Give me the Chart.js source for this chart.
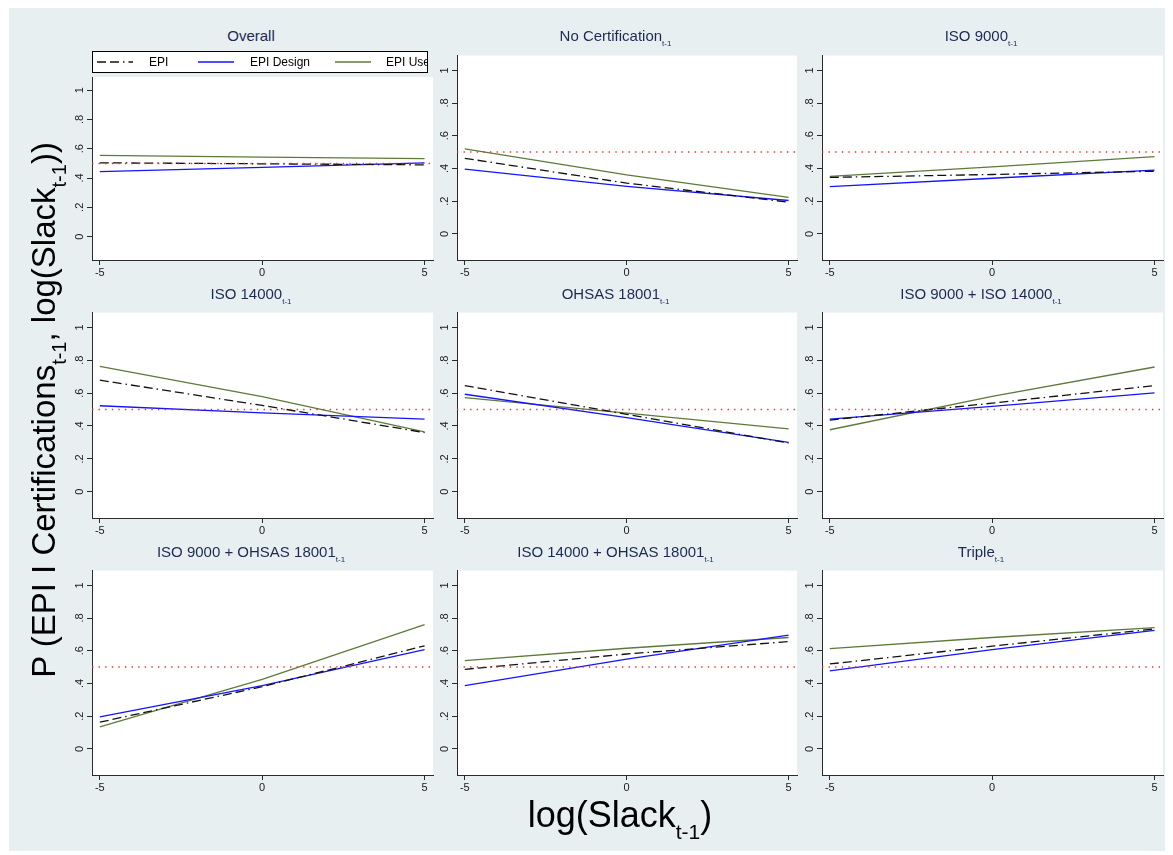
<!DOCTYPE html>
<html>
<head>
<meta charset="utf-8">
<script src="https://cdn.jsdelivr.net/npm/chart.js@4.4.1/dist/chart.umd.min.js"></script>
<style>
  body { margin: 0; background: #fff; font-family: 'Liberation Sans', Arial, sans-serif; }
  #bg { position: absolute; left: 9px; top: 8px; width: 1156px; height: 843px; background: #e8eff1; }
  canvas { position: absolute; }
  .ptitle { position: absolute; text-align: center; font-size: 15px; line-height: 18px; color: #1c2a52; white-space: nowrap; }
  .ptitle sub { font-size: 8px; vertical-align: -5px; line-height: 0; }
  #xtitle { position: absolute; left: 420px; width: 400px; top: 797px; text-align: center; font-size: 36px; line-height: 36px; color: #000; }
  #xtitle sub { font-size: 21px; vertical-align: -12px; line-height: 0; }
  #ytitle { position: absolute; left: -306px; width: 700px; top: 393px; height: 34px; text-align: center; font-size: 33px; line-height: 34px; color: #000; transform: rotate(-90deg); white-space: nowrap; }
  #ytitle sub { font-size: 20px; vertical-align: -11px; line-height: 0; }
</style>
</head>
<body>
<div id="bg"></div>
<div id="panels"></div>
<div id="xtitle">log(Slack<sub>t-1</sub>)</div>
<div id="ytitle">P (EPI I Certifications<sub>t-1</sub>, log(Slack<sub>t-1</sub>))</div>
<script>
// data
const slack = [-5, 0, 5];
const panelNames = ['Overall', 'No Certification', 'ISO 9000', 'ISO 14000', 'OHSAS 18001',
  'ISO 9000 + ISO 14000', 'ISO 9000 + OHSAS 18001', 'ISO 14000 + OHSAS 18001', 'Triple'];
const panelSubs = ['', 't-1', 't-1', 't-1', 't-1', 't-1', 't-1', 't-1', 't-1'];
const seriesNames = ['EPI', 'EPI Design', 'EPI Use'];

const epi = [
  [0.504, 0.497, 0.490], [0.462, 0.310, 0.194], [0.345, 0.363, 0.383],
  [0.679, 0.525, 0.360], [0.646, 0.471, 0.296], [0.436, 0.539, 0.646],
  [0.163, 0.380, 0.630], [0.486, 0.580, 0.656], [0.519, 0.628, 0.733]
];
const epiDesign = [
  [0.443, 0.473, 0.504], [0.396, 0.290, 0.204], [0.289, 0.340, 0.390],
  [0.523, 0.480, 0.442], [0.593, 0.451, 0.300], [0.442, 0.519, 0.601],
  [0.196, 0.387, 0.607], [0.387, 0.549, 0.695], [0.477, 0.607, 0.724]
];
const epiUse = [
  [0.555, 0.543, 0.532], [0.520, 0.360, 0.223], [0.351, 0.410, 0.472],
  [0.763, 0.578, 0.364], [0.572, 0.478, 0.383], [0.377, 0.580, 0.759],
  [0.134, 0.425, 0.759], [0.539, 0.615, 0.681], [0.613, 0.681, 0.741]
];
const refLevel = 0.5;

const xTicks = [-5, 0, 5];
const xTickLabels = ['-5', '0', '5'];
const yTicks = [0, 0.2, 0.4, 0.6, 0.8, 1];
const yTickLabels = ['0', '.2', '.4', '.6', '.8', '1'];

// layout
const colL = [92, 457, 822], colR = [433, 797, 1163];
const rowT = [47, 304, 562], rowB = [260, 518, 775];
const rowTitleY = [36, 294, 552];
const X_MIN = -5.24, X_MAX = 5.26, Y_MIN = -0.16, Y_MAX = 1.09;

const styles = [
  { color: '#111111', width: 1.3, dash: [9, 4, 9, 4, 1.5, 4] },
  { color: '#1414ff', width: 1.3, dash: [] },
  { color: '#5d7a38', width: 1.3, dash: [] }
];
const axisColor = '#2b2b2b';

Chart.defaults.font.family = "'Liberation Sans', Arial, sans-serif";
Chart.defaults.font.size = 11;
Chart.defaults.color = '#1a1a1a';

const plotBg = {
  id: 'plotBg',
  beforeDraw(chart) {
    const { ctx, chartArea: a } = chart;
    ctx.save();
    ctx.fillStyle = '#fff';
    ctx.fillRect(a.left, a.top, a.right - a.left, a.bottom - a.top);
    ctx.restore();
  }
};

// boxed legend above the Overall panel
const legendBox = {
  id: 'legendBox',
  afterDraw(chart) {
    const { ctx, chartArea: a } = chart;
    const x0 = a.left, y0 = 4, w = a.right - a.left - 5, h = 22;
    const sampleX = [5, 106, 243], textX = [57, 158, 294];
    ctx.save();
    ctx.fillStyle = '#fff';
    ctx.fillRect(x0, y0, w, h);
    ctx.strokeStyle = '#000';
    ctx.lineWidth = 1;
    ctx.strokeRect(x0 + 0.5, y0 + 0.5, w - 1, h - 1);
    ctx.beginPath();
    ctx.rect(x0 + 1, y0 + 1, w - 2, h - 2);
    ctx.clip();
    const cy = y0 + h / 2;
    seriesNames.forEach((name, i) => {
      const s = styles[i];
      ctx.beginPath();
      ctx.setLineDash(s.dash);
      ctx.strokeStyle = s.color;
      ctx.lineWidth = s.width;
      ctx.moveTo(x0 + sampleX[i], cy);
      ctx.lineTo(x0 + sampleX[i] + 36, cy);
      ctx.stroke();
      ctx.setLineDash([]);
      ctx.fillStyle = '#000';
      ctx.font = "12px 'Liberation Sans', Arial, sans-serif";
      ctx.textBaseline = 'middle';
      ctx.fillText(name, x0 + textX[i], cy + 0.5);
    });
    ctx.restore();
  }
};

const pts = (ys) => slack.map((x, i) => ({ x, y: ys[i] }));

function makePanel(i) {
  const r = Math.floor(i / 3), c = i % 3;
  const L = colL[c], R = colR[c], T = rowT[r], B = rowB[r];
  const padTop = i === 0 ? 30 : 0;

  const canvas = document.createElement('canvas');
  canvas.id = 'panel' + i;
  canvas.width = R - L + 42;
  canvas.height = B - T + 30;
  canvas.style.left = (L - 40) + 'px';
  canvas.style.top = T + 'px';
  document.getElementById('panels').appendChild(canvas);

  const title = document.createElement('div');
  title.className = 'ptitle';
  title.style.left = (L - 23) + 'px';
  title.style.width = (R - L + 23) + 'px';
  title.style.top = (rowTitleY[r] - 9) + 'px';
  title.innerHTML = panelNames[i] + (panelSubs[i] ? '<sub>' + panelSubs[i] + '</sub>' : '');
  document.body.appendChild(title);

  const series = [epi[i], epiDesign[i], epiUse[i]].map((ys, k) => ({
    label: seriesNames[k],
    data: pts(ys),
    borderColor: styles[k].color,
    borderWidth: styles[k].width,
    borderDash: styles[k].dash,
    pointRadius: 0, tension: 0, fill: false
  }));
  // dotted reference line at .5
  series.unshift({
    label: 'ref',
    data: [{ x: X_MIN, y: refLevel }, { x: X_MAX, y: refLevel }],
    borderColor: '#ff2020',
    borderWidth: 1.5, borderDash: [1.3, 5.3],
    pointRadius: 0, fill: false
  });

  new Chart(canvas.getContext('2d'), {
    type: 'line',
    data: { datasets: series },
    plugins: i === 0 ? [plotBg, legendBox] : [plotBg],
    options: {
      responsive: false, animation: false, devicePixelRatio: 1,
      layout: { padding: { top: padTop, right: 2, left: 0, bottom: 0 } },
      plugins: { legend: { display: false }, tooltip: { enabled: false } },
      scales: {
        x: {
          type: 'linear', min: X_MIN, max: X_MAX,
          afterBuildTicks: (s) => { s.ticks = xTicks.map(v => ({ value: v })); },
          afterFit: (s) => { s.height = 30; },
          ticks: { callback: (v, k) => xTickLabels[k], padding: 1, maxRotation: 0, autoSkip: false },
          grid: { drawOnChartArea: false, tickLength: 5, color: axisColor },
          border: { display: true, color: axisColor, width: 1 }
        },
        y: {
          type: 'linear', min: Y_MIN, max: Y_MAX,
          afterBuildTicks: (s) => { s.ticks = yTicks.map(v => ({ value: v })); },
          afterFit: (s) => { s.width = 40; },
          ticks: { callback: (v, k) => yTickLabels[k], padding: 2, minRotation: 90, maxRotation: 90, crossAlign: 'center', autoSkip: false },
          grid: { drawOnChartArea: false, tickLength: 5, color: axisColor },
          border: { display: true, color: axisColor, width: 1 }
        }
      }
    }
  });
}

for (let i = 0; i < 9; i++) makePanel(i);
</script>
</body>
</html>
